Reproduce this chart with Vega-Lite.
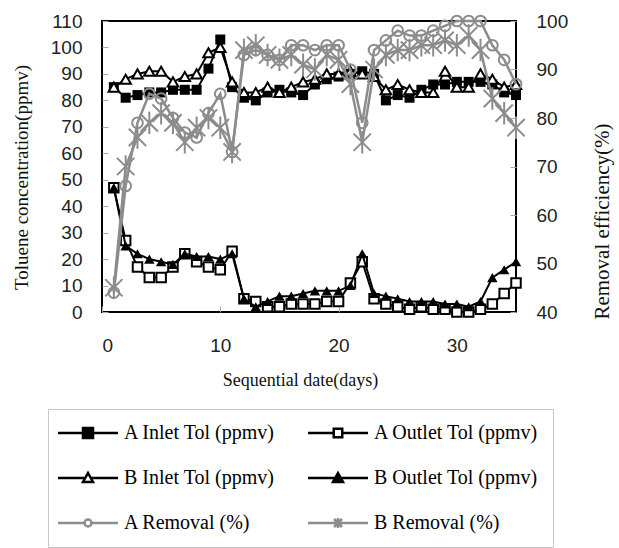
{
  "$schema": "https://vega.github.io/schema/vega-lite/v6.json",
  "autosize": "none",
  "width": 414,
  "height": 291,
  "padding": {"left": 102, "top": 21, "right": 103, "bottom": 236},
  "background": "white",
  "config": {
    "view": {"stroke": "black", "strokeWidth": 2},
    "axis": {"grid": false, "domain": false, "labelFont": "Liberation Sans", "labelFontSize": 19, "labelColor": "#222", "tickColor": "#aaa", "tickSize": -6, "tickWidth": 1, "titleFont": "Liberation Serif", "titleFontWeight": "normal", "titleColor": "#111"},
    "legend": {"orient": "none", "legendX": -54, "legendY": 388, "columns": 2, "labelFont": "Liberation Serif", "labelFontSize": 20, "labelColor": "black", "labelLimit": 300, "symbolSize": 100, "symbolStrokeWidth": 2.5, "symbolOpacity": 1, "symbolOffset": 16, "labelOffset": 26, "rowPadding": 25, "columnPadding": 27, "padding": 14, "strokeColor": "#c8c8c8", "fillColor": "white"}
  },
  "datasets": {
    "ai": [{"d":1,"v":85},{"d":2,"v":81},{"d":3,"v":82},{"d":4,"v":83},{"d":5,"v":83},{"d":6,"v":84},{"d":7,"v":84},{"d":8,"v":84},{"d":9,"v":92},{"d":10,"v":103},{"d":11,"v":85},{"d":12,"v":81},{"d":13,"v":80},{"d":14,"v":83},{"d":15,"v":84},{"d":16,"v":83},{"d":17,"v":82},{"d":18,"v":86},{"d":19,"v":88},{"d":20,"v":89},{"d":21,"v":90},{"d":22,"v":91},{"d":23,"v":90},{"d":24,"v":80},{"d":25,"v":82},{"d":26,"v":81},{"d":27,"v":84},{"d":28,"v":86},{"d":29,"v":86},{"d":30,"v":87},{"d":31,"v":87},{"d":32,"v":87},{"d":33,"v":86},{"d":34,"v":83},{"d":35,"v":82}],
    "ao": [{"d":1,"v":47},{"d":2,"v":27},{"d":3,"v":17},{"d":4,"v":13},{"d":5,"v":13},{"d":6,"v":17},{"d":7,"v":22},{"d":8,"v":19},{"d":9,"v":17},{"d":10,"v":16},{"d":11,"v":23},{"d":12,"v":5},{"d":13,"v":4},{"d":14,"v":2},{"d":15,"v":2},{"d":16,"v":3},{"d":17,"v":3},{"d":18,"v":3},{"d":19,"v":4},{"d":20,"v":4},{"d":21,"v":11},{"d":22,"v":19},{"d":23,"v":5},{"d":24,"v":3},{"d":25,"v":2},{"d":26,"v":1},{"d":27,"v":2},{"d":28,"v":1},{"d":29,"v":1},{"d":30,"v":0},{"d":31,"v":0},{"d":32,"v":1},{"d":33,"v":3},{"d":34,"v":7},{"d":35,"v":11}],
    "bi": [{"d":1,"v":85},{"d":2,"v":88},{"d":3,"v":90},{"d":4,"v":91},{"d":5,"v":91},{"d":6,"v":87},{"d":7,"v":89},{"d":8,"v":90},{"d":9,"v":98},{"d":10,"v":100},{"d":11,"v":87},{"d":12,"v":83},{"d":13,"v":83},{"d":14,"v":85},{"d":15,"v":83},{"d":16,"v":85},{"d":17,"v":87},{"d":18,"v":88},{"d":19,"v":90},{"d":20,"v":90},{"d":21,"v":91},{"d":22,"v":90},{"d":23,"v":89},{"d":24,"v":84},{"d":25,"v":86},{"d":26,"v":84},{"d":27,"v":83},{"d":28,"v":83},{"d":29,"v":91},{"d":30,"v":85},{"d":31,"v":85},{"d":32,"v":90},{"d":33,"v":88},{"d":34,"v":85},{"d":35,"v":86}],
    "bo": [{"d":1,"v":47},{"d":2,"v":25},{"d":3,"v":22},{"d":4,"v":20},{"d":5,"v":19},{"d":6,"v":18},{"d":7,"v":22},{"d":8,"v":21},{"d":9,"v":21},{"d":10,"v":20},{"d":11,"v":22},{"d":12,"v":5},{"d":13,"v":2},{"d":14,"v":4},{"d":15,"v":6},{"d":16,"v":6},{"d":17,"v":7},{"d":18,"v":8},{"d":19,"v":8},{"d":20,"v":8},{"d":21,"v":10},{"d":22,"v":22},{"d":23,"v":7},{"d":24,"v":6},{"d":25,"v":5},{"d":26,"v":4},{"d":27,"v":4},{"d":28,"v":4},{"d":29,"v":3},{"d":30,"v":3},{"d":31,"v":2},{"d":32,"v":4},{"d":33,"v":13},{"d":34,"v":16},{"d":35,"v":19}],
    "ar": [{"d":1,"v":44},{"d":2,"v":66},{"d":3,"v":79},{"d":4,"v":85},{"d":5,"v":84},{"d":6,"v":80},{"d":7,"v":77},{"d":8,"v":76},{"d":9,"v":81},{"d":10,"v":85},{"d":11,"v":73},{"d":12,"v":93},{"d":13,"v":94},{"d":14,"v":93},{"d":15,"v":92},{"d":16,"v":95},{"d":17,"v":95},{"d":18,"v":94},{"d":19,"v":95},{"d":20,"v":95},{"d":21,"v":90},{"d":22,"v":79},{"d":23,"v":94},{"d":24,"v":96},{"d":25,"v":98},{"d":26,"v":97},{"d":27,"v":97},{"d":28,"v":98},{"d":29,"v":99},{"d":30,"v":100},{"d":31,"v":100},{"d":32,"v":100},{"d":33,"v":95},{"d":34,"v":92},{"d":35,"v":87}],
    "br": [{"d":1,"v":45},{"d":2,"v":70},{"d":3,"v":76},{"d":4,"v":79},{"d":5,"v":81},{"d":6,"v":79},{"d":7,"v":75},{"d":8,"v":78},{"d":9,"v":80},{"d":10,"v":78},{"d":11,"v":73},{"d":12,"v":94},{"d":13,"v":95},{"d":14,"v":93},{"d":15,"v":92},{"d":16,"v":93},{"d":17,"v":91},{"d":18,"v":90},{"d":19,"v":93},{"d":20,"v":92},{"d":21,"v":87},{"d":22,"v":75},{"d":23,"v":90},{"d":24,"v":93},{"d":25,"v":94},{"d":26,"v":94},{"d":27,"v":95},{"d":28,"v":95},{"d":29,"v":96},{"d":30,"v":95},{"d":31,"v":97},{"d":32,"v":94},{"d":33,"v":84},{"d":34,"v":81},{"d":35,"v":78}],
    "leg": [{"s":"A Inlet Tol (ppmv)"},{"s":"B Inlet Tol (ppmv)"},{"s":"A Removal (%)"},{"s":"A Outlet Tol (ppmv)"},{"s":"B Outlet Tol (ppmv)"},{"s":"B Removal (%)"}]
  },
  "encoding": {
    "x": {"field": "d", "type": "quantitative", "scale": {"domain": [0, 35], "nice": false},
      "axis": {"values": [0, 10, 20, 30], "labelPadding": 30, "title": "Sequential date(days)", "titleFontSize": 18, "titleX": 198, "titleY": 68, "titleBaseline": "middle", "titleAnchor": null}}
  },
  "layer": [
    {
      "encoding": {
        "y": {"field": "v", "type": "quantitative", "scale": {"domain": [0, 110], "nice": false},
          "axis": {"values": [0,10,20,30,40,50,60,70,80,90,100,110], "labelPadding": 26, "title": "Toluene concentration(ppmv)", "titleFontSize": 19, "titleAngle": -90, "titleX": -81, "titleY": 156, "titleBaseline": "middle", "titleAlign": "center"}}
      },
      "layer": [
        {"data": {"name": "ai"}, "mark": {"type": "line", "color": "black", "strokeWidth": 2, "point": {"shape": "square", "size": 100, "filled": true, "color": "black"}}},
        {"data": {"name": "ao"}, "mark": {"type": "line", "color": "black", "strokeWidth": 2, "point": {"shape": "square", "size": 90, "filled": false, "fill": "white", "stroke": "black", "strokeWidth": 2}}},
        {"data": {"name": "bi"}, "mark": {"type": "line", "color": "black", "strokeWidth": 2, "point": {"shape": "triangle-up", "size": 110, "filled": false, "fill": "white", "stroke": "black", "strokeWidth": 2}}},
        {"data": {"name": "bo"}, "mark": {"type": "line", "color": "black", "strokeWidth": 2, "point": {"shape": "triangle-up", "size": 110, "filled": true, "color": "black"}}},
        {
          "data": {"name": "leg"},
          "mark": {"type": "point", "size": 100, "opacity": 1},
          "encoding": {
            "shape": {"field": "s", "type": "nominal",
              "scale": {"domain": ["A Inlet Tol (ppmv)","B Inlet Tol (ppmv)","A Removal (%)","A Outlet Tol (ppmv)","B Outlet Tol (ppmv)","B Removal (%)"],
                "range": ["M-6,0H6M-1,-1H1V1H-1Z","M-6,0H-0.56M0.56,0H6M0,-1L1,0.8H-1Z","M-6,0H-0.7M0.7,0H6M-0.7,0A0.7,0.7,0,1,1,0.7,0A0.7,0.7,0,1,1,-0.7,0Z","M-6,0H-0.85M0.85,0H6M-0.85,-0.85H0.85V0.85H-0.85Z","M-6,0H6M0,-1L1,0.8H-1Z","M-6,0H6M-0.8,-0.8L0.8,0.8M0.8,-0.8L-0.8,0.8M0,-1V1"]},
              "legend": {"title": null}},
            "stroke": {"field": "s", "type": "nominal",
              "scale": {"domain": ["A Inlet Tol (ppmv)","B Inlet Tol (ppmv)","A Removal (%)","A Outlet Tol (ppmv)","B Outlet Tol (ppmv)","B Removal (%)"],
                "range": ["black","black","#8c8c8c","black","black","#8c8c8c"]},
              "legend": {"title": null}},
            "fill": {"field": "s", "type": "nominal",
              "scale": {"domain": ["A Inlet Tol (ppmv)","B Inlet Tol (ppmv)","A Removal (%)","A Outlet Tol (ppmv)","B Outlet Tol (ppmv)","B Removal (%)"],
                "range": ["black","white","white","white","black","#8c8c8c"]},
              "legend": {"title": null}}
          }
        }
      ]
    },
    {
      "encoding": {
        "y": {"field": "v", "type": "quantitative", "scale": {"domain": [40, 100], "nice": false},
          "axis": {"orient": "right", "values": [40,50,60,70,80,90,100], "labelPadding": 26, "title": "Removal efficiency(%)", "titleFontSize": 21, "titleAngle": -90, "titleX": 86, "titleY": 200, "titleBaseline": "middle", "titleAlign": "center"}}
      },
      "layer": [
        {"data": {"name": "ar"}, "mark": {"type": "line", "color": "#8c8c8c", "strokeWidth": 2.5, "point": {"shape": "circle", "size": 115, "filled": false, "stroke": "#8c8c8c", "strokeWidth": 2}}},
        {"data": {"name": "br"}, "mark": {"type": "line", "color": "#8c8c8c", "strokeWidth": 2.5, "point": {"shape": "M-1,-1L1,1M1,-1L-1,1M0,-1.3V1.3", "size": 300, "filled": false, "stroke": "#8c8c8c", "strokeWidth": 2}}}
      ]
    }
  ],
  "resolve": {"scale": {"y": "independent"}}
}
